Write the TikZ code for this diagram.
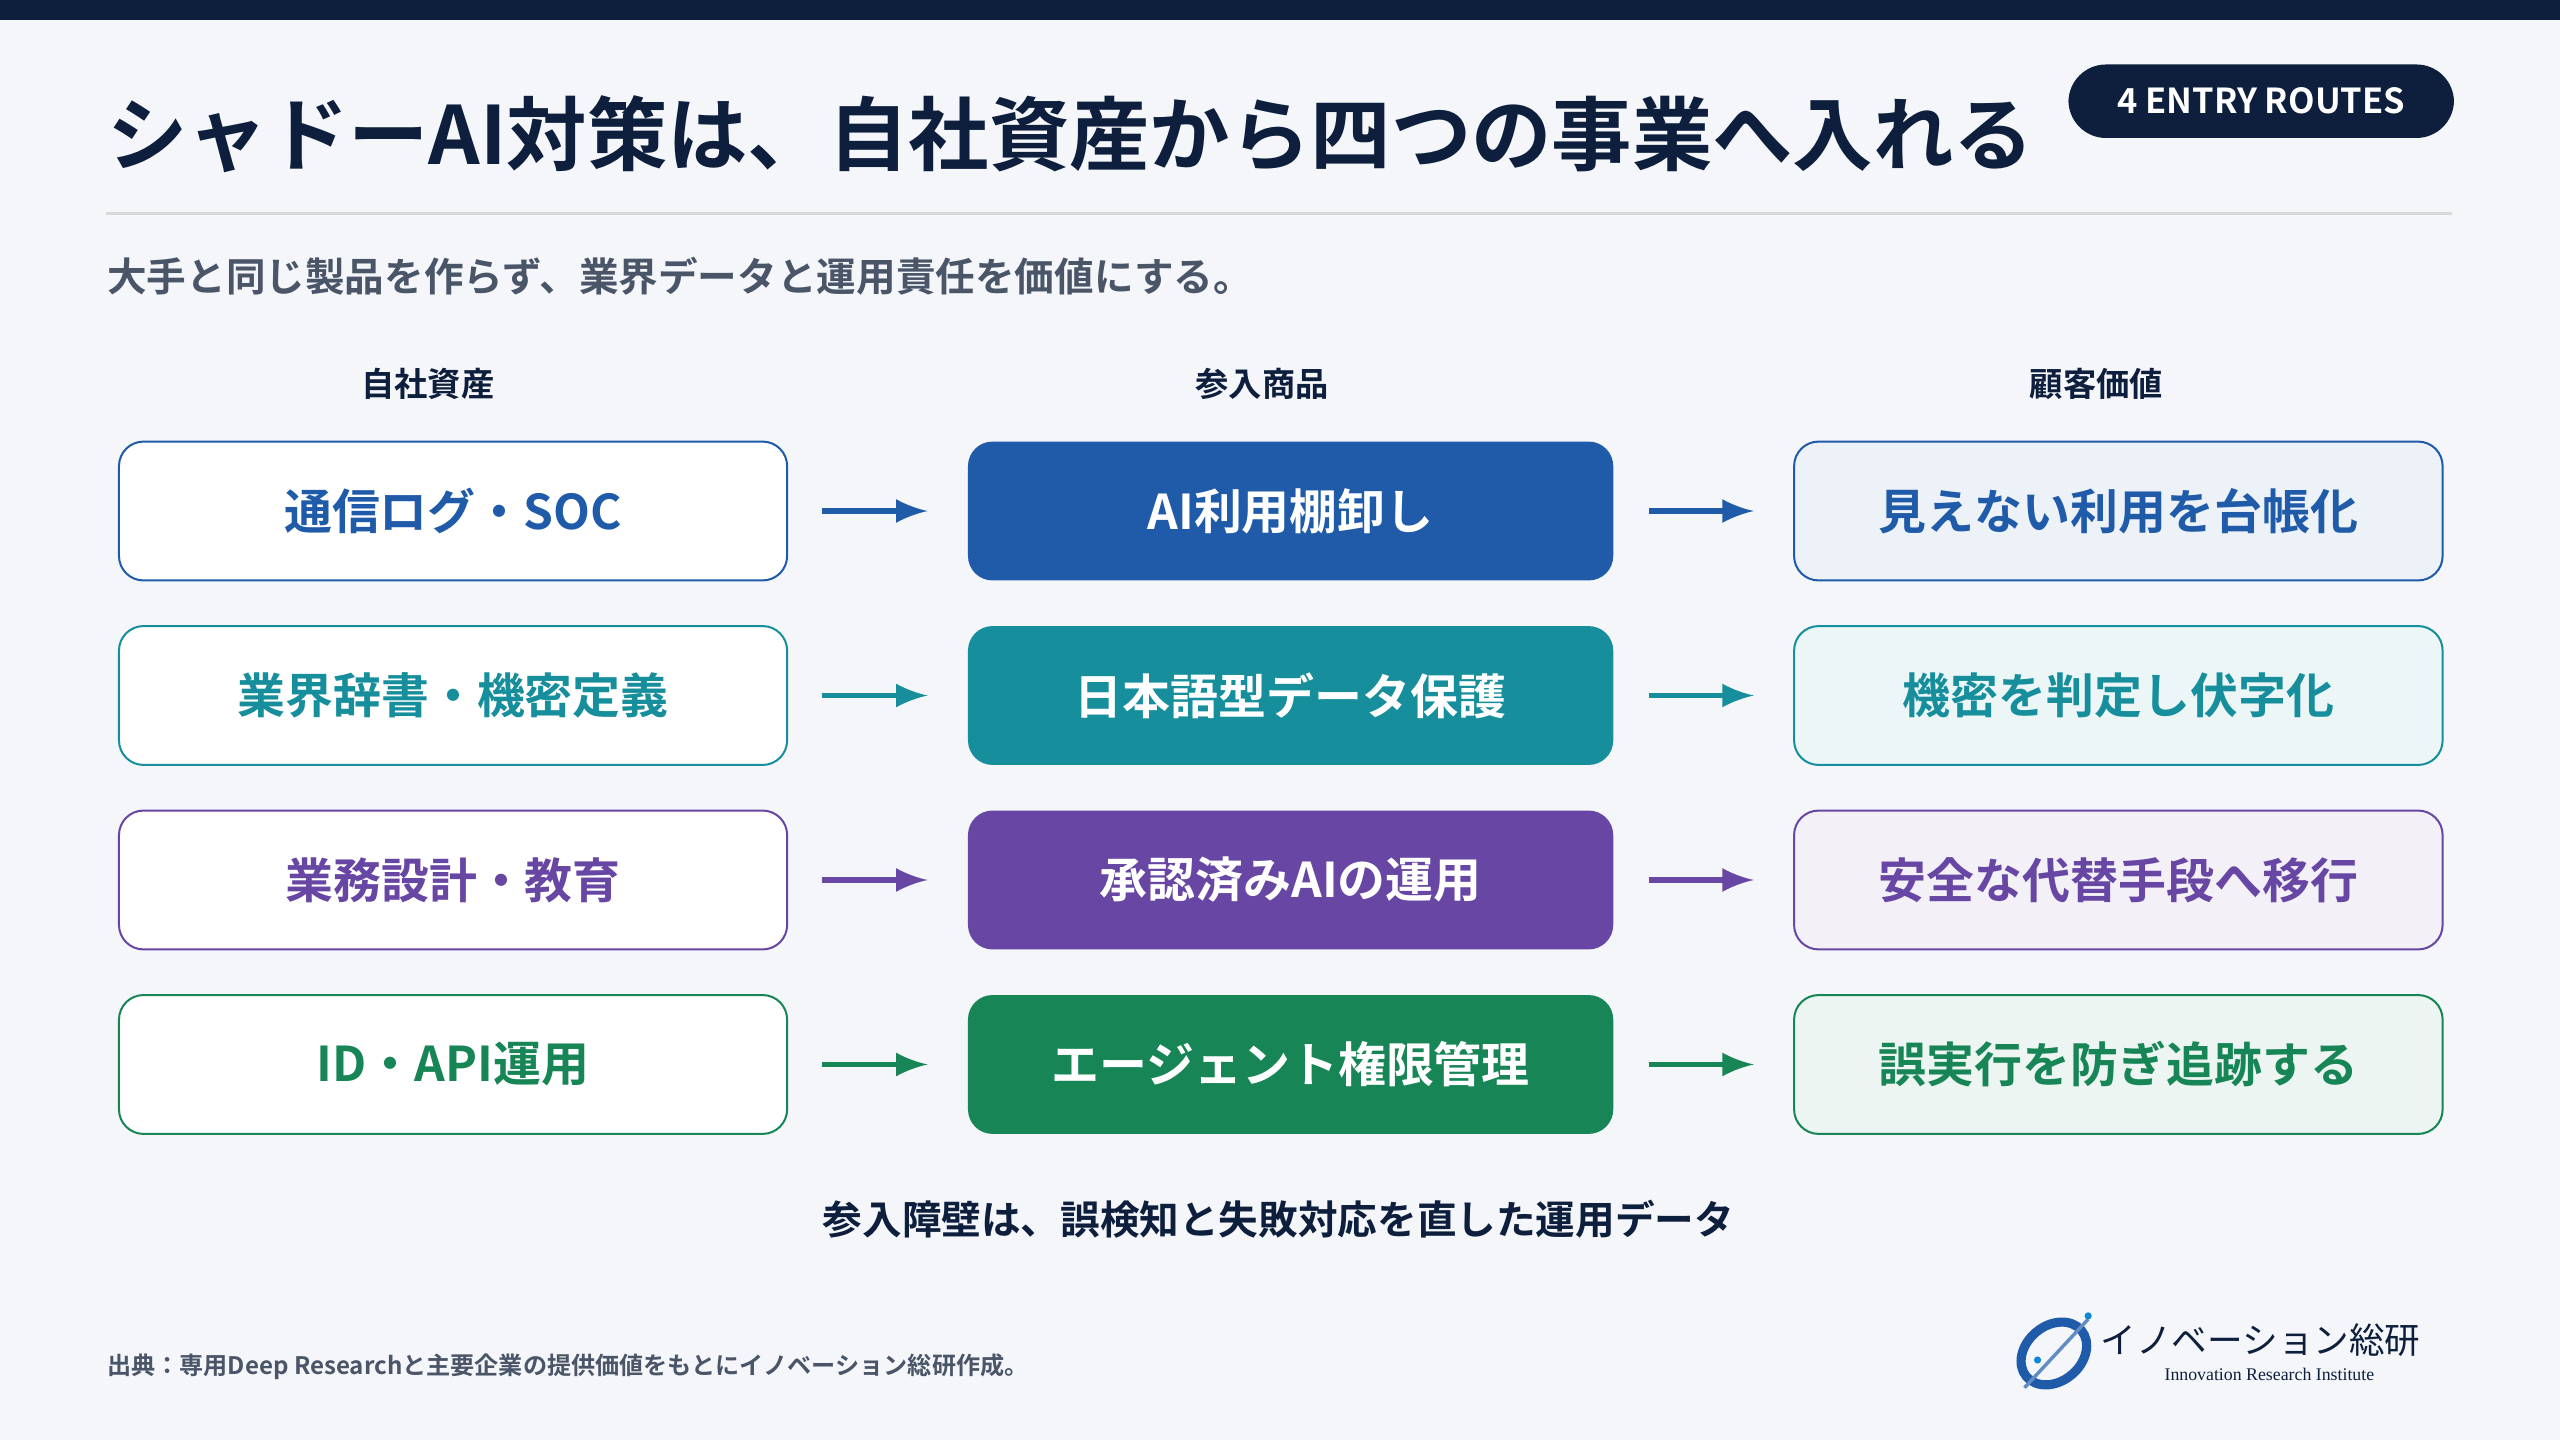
\documentclass[tikz,border=0pt]{standalone}
\usepackage{fontspec}
\setmainfont{Noto Sans CJK JP}[BoldFont={* Bold}]
\newfontfamily\logofont{Liberation Serif}
\usetikzlibrary{calc}
\usetikzlibrary{positioning}
\definecolor{navy}{HTML}{0D1F3C}
\definecolor{bgpage}{HTML}{F4F6FA}
\definecolor{cblue}{HTML}{1F5BA8}
\definecolor{cteal}{HTML}{168E9C}
\definecolor{cpurple}{HTML}{6747A3}
\definecolor{cgreen}{HTML}{178556}
\definecolor{txtgray}{HTML}{4A5568}
\tikzset{
 asset/.style={draw=#1, fill=white, line width=0.35pt, rounded corners=1.5mm, minimum width=4.09cm, minimum height=0.85cm, text=#1, font=\bfseries\fontsize{8.35}{8.35}\selectfont},
 product/.style={fill=#1, rounded corners=1.5mm, minimum width=3.95cm, minimum height=0.85cm, text=white, font=\bfseries\fontsize{8.35}{8.35}\selectfont},
 value/.style={draw=#1, fill=#1!8, line width=0.35pt, rounded corners=1.5mm, minimum width=3.97cm, minimum height=0.85cm, text=#1, font=\bfseries\fontsize{8.35}{8.35}\selectfont},
 flow/.style={draw=#1, line width=0.9pt, -latex},
 colhead/.style={text=navy, font=\bfseries\fontsize{5.8}{5.8}\selectfont}
}
\begin{document}
\begin{tikzpicture}[x=0.01cm, y=-0.01cm]
 \useasboundingbox (0,0) rectangle (1568,882);
 \fill[bgpage] (0,0) rectangle (1568,882);
 \fill[navy] (0,0) rectangle (1568,12);
 % title
 \node[name=title, anchor=west, inner sep=0, text=navy, font=\bfseries\fontsize{14}{14}\selectfont] at (65,82) {シャドーAI対策は、自社資産から四つの事業へ入れる};
 \node[name=badge, fill=navy, rounded corners=2.3mm, minimum width=2.36cm, minimum height=0.45cm, text=white, font=\bfseries\fontsize{6}{6}\selectfont] at (1385,62) {4 ENTRY ROUTES};
 \draw[black!15, line width=0.5pt] (65,131) -- (1502,131);
 \node[name=subtitle, anchor=west, inner sep=0, text=txtgray, font=\bfseries\fontsize{6.9}{6.9}\selectfont] at (65,169) {大手と同じ製品を作らず、業界データと運用責任を価値にする。};
 % column heads
 \node[name=head-a, colhead] at (262,235) {自社資産};
 \node[name=head-b, colhead] at (773,235) {参入商品};
 \node[name=head-c, colhead] at (1284,235) {顧客価値};
 % rows
 \foreach \i/\col/\ta/\tb/\tc in {
   1/cblue/通信ログ・SOC/AI利用棚卸し/見えない利用を台帳化,
   2/cteal/業界辞書・機密定義/日本語型データ保護/機密を判定し伏字化,
   3/cpurple/業務設計・教育/承認済みAIの運用/安全な代替手段へ移行,
   4/cgreen/ID・API運用/エージェント権限管理/誤実行を防ぎ追跡する} {
   \node[name=src-\i, asset=\col] at (277.5,{313+113*(\i-1)}) {\ta};
   \node[name=prod-\i, product=\col] at (790.5,{313+113*(\i-1)}) {\tb};
   \node[name=val-\i, value=\col] at (1297.5,{313+113*(\i-1)}) {\tc};
   \draw[flow=\col] ($(src-\i.east)+(21,0)$) -- ($(prod-\i.west)+(-24,0)$);
   \draw[flow=\col] ($(prod-\i.east)+(21,0)$) -- ($(val-\i.west)+(-24,0)$);
 }
 \node[name=barrier, text=navy, font=\bfseries\fontsize{6.9}{6.9}\selectfont] at (783,747) {参入障壁は、誤検知と失敗対応を直した運用データ};
 \node[name=source, anchor=west, inner sep=0, text=txtgray, font=\bfseries\fontsize{4.2}{4.2}\selectfont] at (65,837) {出典：専用Deep Researchと主要企業の提供価値をもとにイノベーション総研作成。};
 % logo
 \draw[cblue, line width=1.6pt] (1258,829) ellipse [x radius=22, y radius=17, rotate=40];
 \draw[cblue!70, line width=0.6pt] (1240,850) -- (1279,808);
 \fill[cyan!70!blue] (1279,806) circle (2.2);
 \fill[cyan!70!blue] (1248,833) circle (2.2);
 \node[name=logo, anchor=west, inner sep=0, text=navy, font=\fontsize{6.2}{6.2}\selectfont] at (1286,821) {イノベーション総研};
 \node[name=logo-en, anchor=north, inner sep=0, text=navy, font=\logofont\fontsize{3.1}{3.1}\selectfont] at (1390,837) {Innovation Research Institute};
\end{tikzpicture}
\end{document}
